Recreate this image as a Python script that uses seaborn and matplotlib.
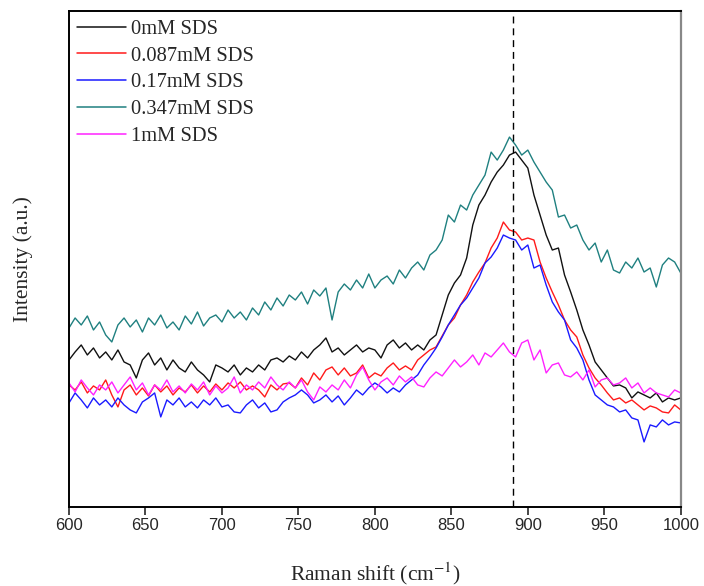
import numpy as np
import pandas as pd
import matplotlib
matplotlib.use('Agg')
import matplotlib.pyplot as plt
import seaborn as sns

# Raman shift grid (cm-1), every 4 cm-1 from 600 to 1000
shift = np.arange(600, 1001, 4)

labels = ['0mM SDS', '0.087mM SDS', '0.17mM SDS', '0.347mM SDS', '1mM SDS']
colors = ['#111111', '#ff1a1a', '#1a1aff', '#1f8080', '#ff22ff']

sds_0 = [148, 156, 163, 153, 160, 150, 156, 148, 158, 146,
         143, 130, 148, 155, 143, 150, 138, 148, 140, 136,
         146, 138, 133, 126, 143, 140, 136, 143, 133, 140,
         136, 143, 138, 148, 150, 146, 152, 148, 156, 150,
         158, 163, 170, 156, 160, 153, 158, 163, 156, 160,
         158, 150, 163, 168, 160, 165, 158, 163, 158, 168,
         173, 193, 213, 225, 233, 250, 283, 303, 313, 326,
         336, 343, 353, 356, 348, 340, 313, 293, 273, 258,
         260, 233, 216, 198, 178, 163, 146, 138, 130, 122,
         123, 120, 110, 116, 113, 110, 115, 106, 110, 108,
         110]

sds_0087 = [123, 118, 126, 115, 122, 118, 128, 113, 101, 118,
            123, 113, 120, 112, 123, 116, 122, 113, 120, 116,
            123, 115, 122, 116, 124, 118, 125, 120, 126, 118,
            122, 118, 111, 123, 118, 124, 125, 120, 130, 123,
            135, 128, 138, 141, 133, 140, 132, 135, 143, 130,
            135, 132, 140, 145, 138, 142, 138, 148, 153, 158,
            161, 172, 183, 190, 203, 213, 226, 236, 245, 260,
            270, 286, 278, 276, 268, 270, 268, 246, 230, 216,
            203, 188, 178, 171, 153, 140, 130, 123, 115, 108,
            110, 105, 108, 103, 98, 102, 100, 96, 95, 103,
            98]

sds_017 = [105, 115, 108, 100, 110, 103, 108, 101, 110, 103,
           98, 95, 106, 110, 115, 91, 108, 103, 110, 101,
           106, 100, 108, 103, 110, 101, 103, 96, 95, 103,
           108, 100, 105, 96, 98, 106, 110, 113, 118, 113,
           105, 108, 113, 106, 112, 103, 110, 118, 113, 120,
           125, 121, 115, 120, 116, 123, 128, 133, 143, 151,
           160, 171, 183, 193, 203, 210, 220, 230, 245, 251,
           260, 273, 270, 268, 258, 263, 240, 243, 223, 206,
           196, 188, 168, 160, 148, 128, 113, 108, 103, 101,
           96, 98, 90, 88, 66, 83, 81, 88, 83, 86,
           85]

sds_0347 = [180, 190, 183, 192, 178, 186, 173, 166, 183, 190,
            181, 188, 176, 190, 183, 193, 180, 186, 178, 192,
            184, 196, 182, 190, 193, 186, 198, 190, 196, 188,
            200, 193, 206, 198, 210, 202, 213, 208, 216, 204,
            218, 212, 220, 188, 216, 224, 218, 228, 220, 234,
            220, 228, 232, 224, 238, 230, 240, 246, 238, 253,
            258, 268, 293, 286, 303, 298, 313, 323, 333, 356,
            348, 358, 371, 363, 353, 358, 346, 336, 326, 318,
            291, 293, 280, 283, 268, 258, 265, 246, 258, 238,
            235, 246, 240, 250, 236, 240, 221, 243, 250, 246,
            235]

sds_1 = [125, 116, 128, 120, 113, 123, 118, 126, 115, 123,
         131, 118, 125, 113, 123, 118, 128, 116, 122, 115,
         124, 118, 126, 113, 122, 115, 120, 131, 115, 123,
         118, 126, 120, 131, 123, 118, 126, 120, 128, 116,
         108, 121, 116, 123, 118, 128, 120, 133, 141, 128,
         118, 126, 130, 123, 132, 126, 131, 123, 121, 130,
         136, 132, 140, 148, 141, 146, 153, 143, 155, 151,
         158, 165, 156, 151, 165, 168, 148, 158, 135, 143,
         145, 133, 131, 136, 128, 138, 121, 128, 130, 123,
         125, 130, 120, 125, 115, 120, 115, 113, 111, 118,
         115]

peak_pos = 890

series = [sds_0, sds_0087, sds_017, sds_0347, sds_1]
df = pd.concat([pd.DataFrame({'shift': shift, 'intensity': s, 'sample': lab})
                for s, lab in zip(series, labels)], ignore_index=True)

sns.set_style('ticks')
plt.rcParams['font.family'] = ['Liberation Sans', 'DejaVu Sans']
plt.rcParams['mathtext.fontset'] = 'stix'

fig = plt.figure(figsize=(7.04, 5.86), dpi=100)
ax = fig.add_axes([0.098, 0.135, 0.869, 0.846])

sns.lineplot(data=df, x='shift', y='intensity', hue='sample', hue_order=labels,
             palette=colors, linewidth=1.0, ax=ax, legend=True)
ax.axvline(peak_pos, color='black', linestyle=(0, (5, 3.5)), linewidth=1.0)

ax.set_xlim(600, 1000)
ax.set_ylim(1, 497)
ax.set_xticks(range(600, 1001, 50))
ax.set_yticks([])
ax.tick_params(axis='x', direction='out', length=6, width=1.2, labelsize=12, pad=2)

for side in ['left', 'bottom', 'top']:
    ax.spines[side].set_linewidth(1.4)
    ax.spines[side].set_color('black')
ax.spines['right'].set_linewidth(1.6)
ax.spines['right'].set_color('#888888')

ax.set_xlabel('Raman shift (cm$^{-1}$)', family='Liberation Serif', fontsize=15.5, labelpad=20)
ax.set_ylabel('Intensity (a.u.)', family='Liberation Serif', fontsize=15.5, labelpad=26)

leg = ax.legend(loc='upper left', frameon=False, prop={'family': 'Liberation Serif', 'size': 14.8},
                handlelength=2.35, handletextpad=0.25, labelspacing=0.36,
                borderaxespad=0.2, borderpad=0.2)
for line in leg.get_lines():
    line.set_linewidth(1.1)

fig.savefig('out.png', dpi=100)
